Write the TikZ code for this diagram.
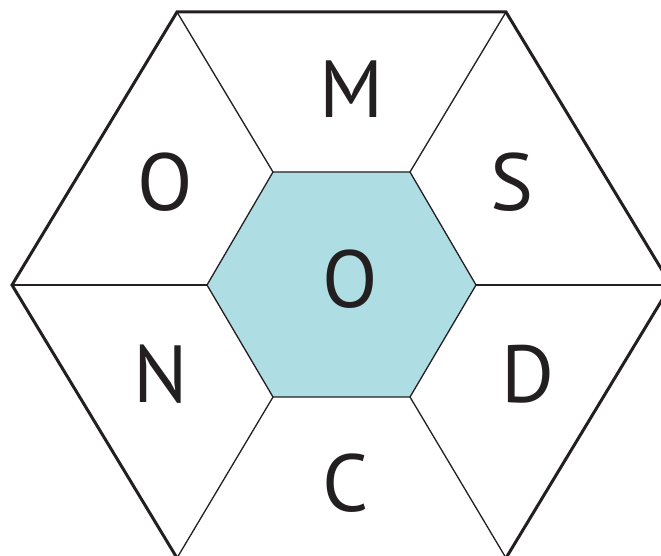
\documentclass[tikz,border=0pt]{standalone}
\usepackage{fontspec}
\setmainfont{PT Sans}
\definecolor{ink}{HTML}{231F20}
\definecolor{hexfill}{HTML}{AEDDE3}
\tikzset{
  outerline/.style={draw=ink, line width=3pt, line join=miter},
  thinline/.style={draw=ink, line width=1.3pt},
  letter/.style={font=\fontsize{81}{81}\selectfont, text=ink, inner sep=0pt, anchor=base}
}
\begin{document}
\begin{tikzpicture}[x=1pt,y=-1pt]
\useasboundingbox (0,0) rectangle (661,556);
\clip (0,0) rectangle (661,556);
\fill[white] (0,0) rectangle (661,556);
% outer vertices
\coordinate (o1) at (177,12);
\coordinate (o2) at (506,12);
\coordinate (o3) at (671,285);
\coordinate (o4) at (506,558);
\coordinate (o5) at (177,558);
\coordinate (o6) at (12,285);
% inner vertices
\coordinate (i1) at (273,172);
\coordinate (i2) at (410,172);
\coordinate (i3) at (476,285);
\coordinate (i4) at (410,397);
\coordinate (i5) at (273,397);
\coordinate (i6) at (207,285);
% inner hexagon
\fill[hexfill] (i1) -- (i2) -- (i3) -- (i4) -- (i5) -- (i6) -- cycle;
\draw[thinline, line join=miter] (i1) -- (i2) -- (i3) -- (i4) -- (i5) -- (i6) -- cycle;
% spokes
\draw[thinline] (o1) -- (i1);
\draw[thinline] (o2) -- (i2);
\draw[thinline] (o3) -- (i3);
\draw[thinline] (o4) -- (i4);
\draw[thinline] (o5) -- (i5);
\draw[thinline] (o6) -- (i6);
% outer hexagon
\draw[outerline] (o1) -- (o2) -- (o3) -- (o4) -- (o5) -- (o6) -- cycle;
% letters
\node[letter] (m) at (351.5,118) {M};
\node[letter] (olt) at (165,211) {O};
\node[letter] (s) at (512,211) {S};
\node[letter] (oc) at (350.5,307) {O};
\node[letter] (n) at (160.5,402) {N};
\node[letter] (d) at (528,402) {D};
\node[letter] (c) at (345.5,511) {C};
\end{tikzpicture}
\end{document}
